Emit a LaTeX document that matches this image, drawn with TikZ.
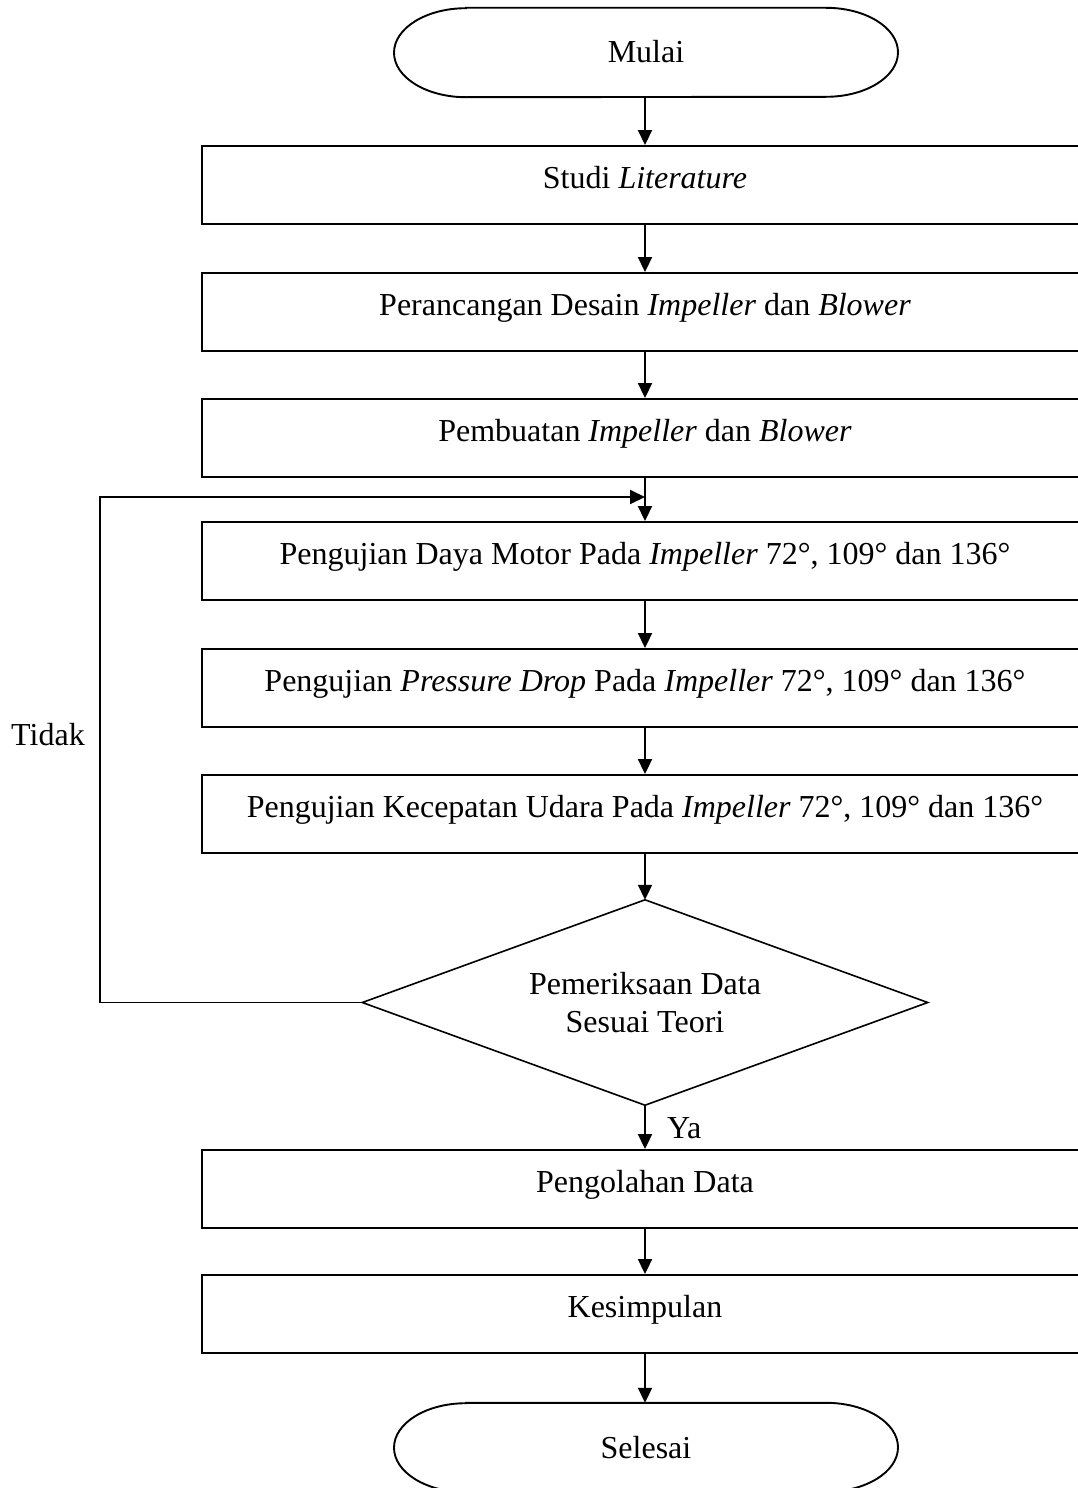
\documentclass[tikz,border=0pt]{standalone}
\usepackage{fontspec}
\setmainfont{Liberation Serif}
\usetikzlibrary{arrows.meta}
\begin{document}
\begin{tikzpicture}[x=1pt,y=-1pt,
  every node/.style={font=\fontsize{32}{38}\selectfont},
  ln/.style={line width=1.9pt},
  arr/.style={ln,-{Triangle[length=15pt,width=14pt]}},
  procbox/.style={draw,line width=1.9pt,minimum width=886pt,minimum height=78pt,inner sep=0pt,text height=21pt,text depth=15pt},
  termtext/.style={minimum width=504pt,minimum height=89pt,inner sep=0pt,text height=21pt,text depth=0pt},
  decision/.style={minimum width=565pt,minimum height=205pt,inner sep=0pt,align=center}]
\useasboundingbox (0,0) rectangle (1078,1488);
\clip (0,0) rectangle (1078,1488);
\fill[white] (0,0) rectangle (1078,1488);

\node[termtext] (start) at (646,52.5) {Mulai};
\draw[ln] ([xshift=-180pt]start.north) -- ([xshift=180pt]start.north)
  arc[start angle=90,end angle=-90,x radius=72pt,y radius=44.5pt]
  -- ([xshift=-180pt]start.south)
  arc[start angle=270,end angle=90,x radius=72pt,y radius=44.5pt] -- cycle;

\node[procbox] (b1) at (645,185) {Studi \textit{Literature}};
\node[procbox] (b2) at (645,312) {Perancangan Desain \textit{Impeller} dan \textit{Blower}};
\node[procbox] (b3) at (645,438) {Pembuatan \textit{Impeller} dan \textit{Blower}};
\node[procbox] (b4) at (645,561) {Pengujian Daya Motor Pada \textit{Impeller} 72°, 109° dan 136°};
\node[procbox] (b5) at (645,688) {Pengujian \textit{Pressure Drop} Pada \textit{Impeller} 72°, 109° dan 136°};
\node[procbox] (b6) at (645,814) {Pengujian Kecepatan Udara Pada \textit{Impeller} 72°, 109° dan 136°};
\node[decision] (dec) at (645,1002.5) {Pemeriksaan Data\\Sesuai Teori};
\draw[line width=1.6pt,line join=miter] (dec.north) -- (dec.east) -- (dec.south) -- (dec.west) -- cycle;
\node[procbox] (b7) at (645,1189) {Pengolahan Data};
\node[procbox] (b8) at (645,1314) {Kesimpulan};

\node[termtext] (end) at (646,1447.5) {Selesai};
\draw[ln] ([xshift=-180pt]end.north) -- ([xshift=180pt]end.north)
  arc[start angle=90,end angle=-90,x radius=72pt,y radius=44.5pt]
  -- ([xshift=-180pt]end.south)
  arc[start angle=270,end angle=90,x radius=72pt,y radius=44.5pt] -- cycle;

\draw[arr] (start.south -| b1.north) -- (b1.north);
\draw[arr] (b1) -- (b2);
\draw[arr] (b2) -- (b3);
\draw[arr] (b3) -- (b4);
\draw[arr] (b4) -- (b5);
\draw[arr] (b5) -- (b6);
\draw[arr] (b6.south) -- (dec.north);
\draw[arr] (dec.south) -- (b7.north);
\draw[arr] (b7) -- (b8);
\draw[arr] (b8.south) -- (b8.south |- end.north);

\coordinate (fb) at (645,497);
\coordinate (lc) at (100,1002.5);
\draw[arr] (dec.west) -- (lc) -- (lc |- fb) -- (fb);

\node[anchor=base,inner sep=0pt] (tidak) at (48,745) {Tidak};
\node[anchor=base west,inner sep=0pt] (ya) at (667,1138) {Ya};
\end{tikzpicture}
\end{document}
